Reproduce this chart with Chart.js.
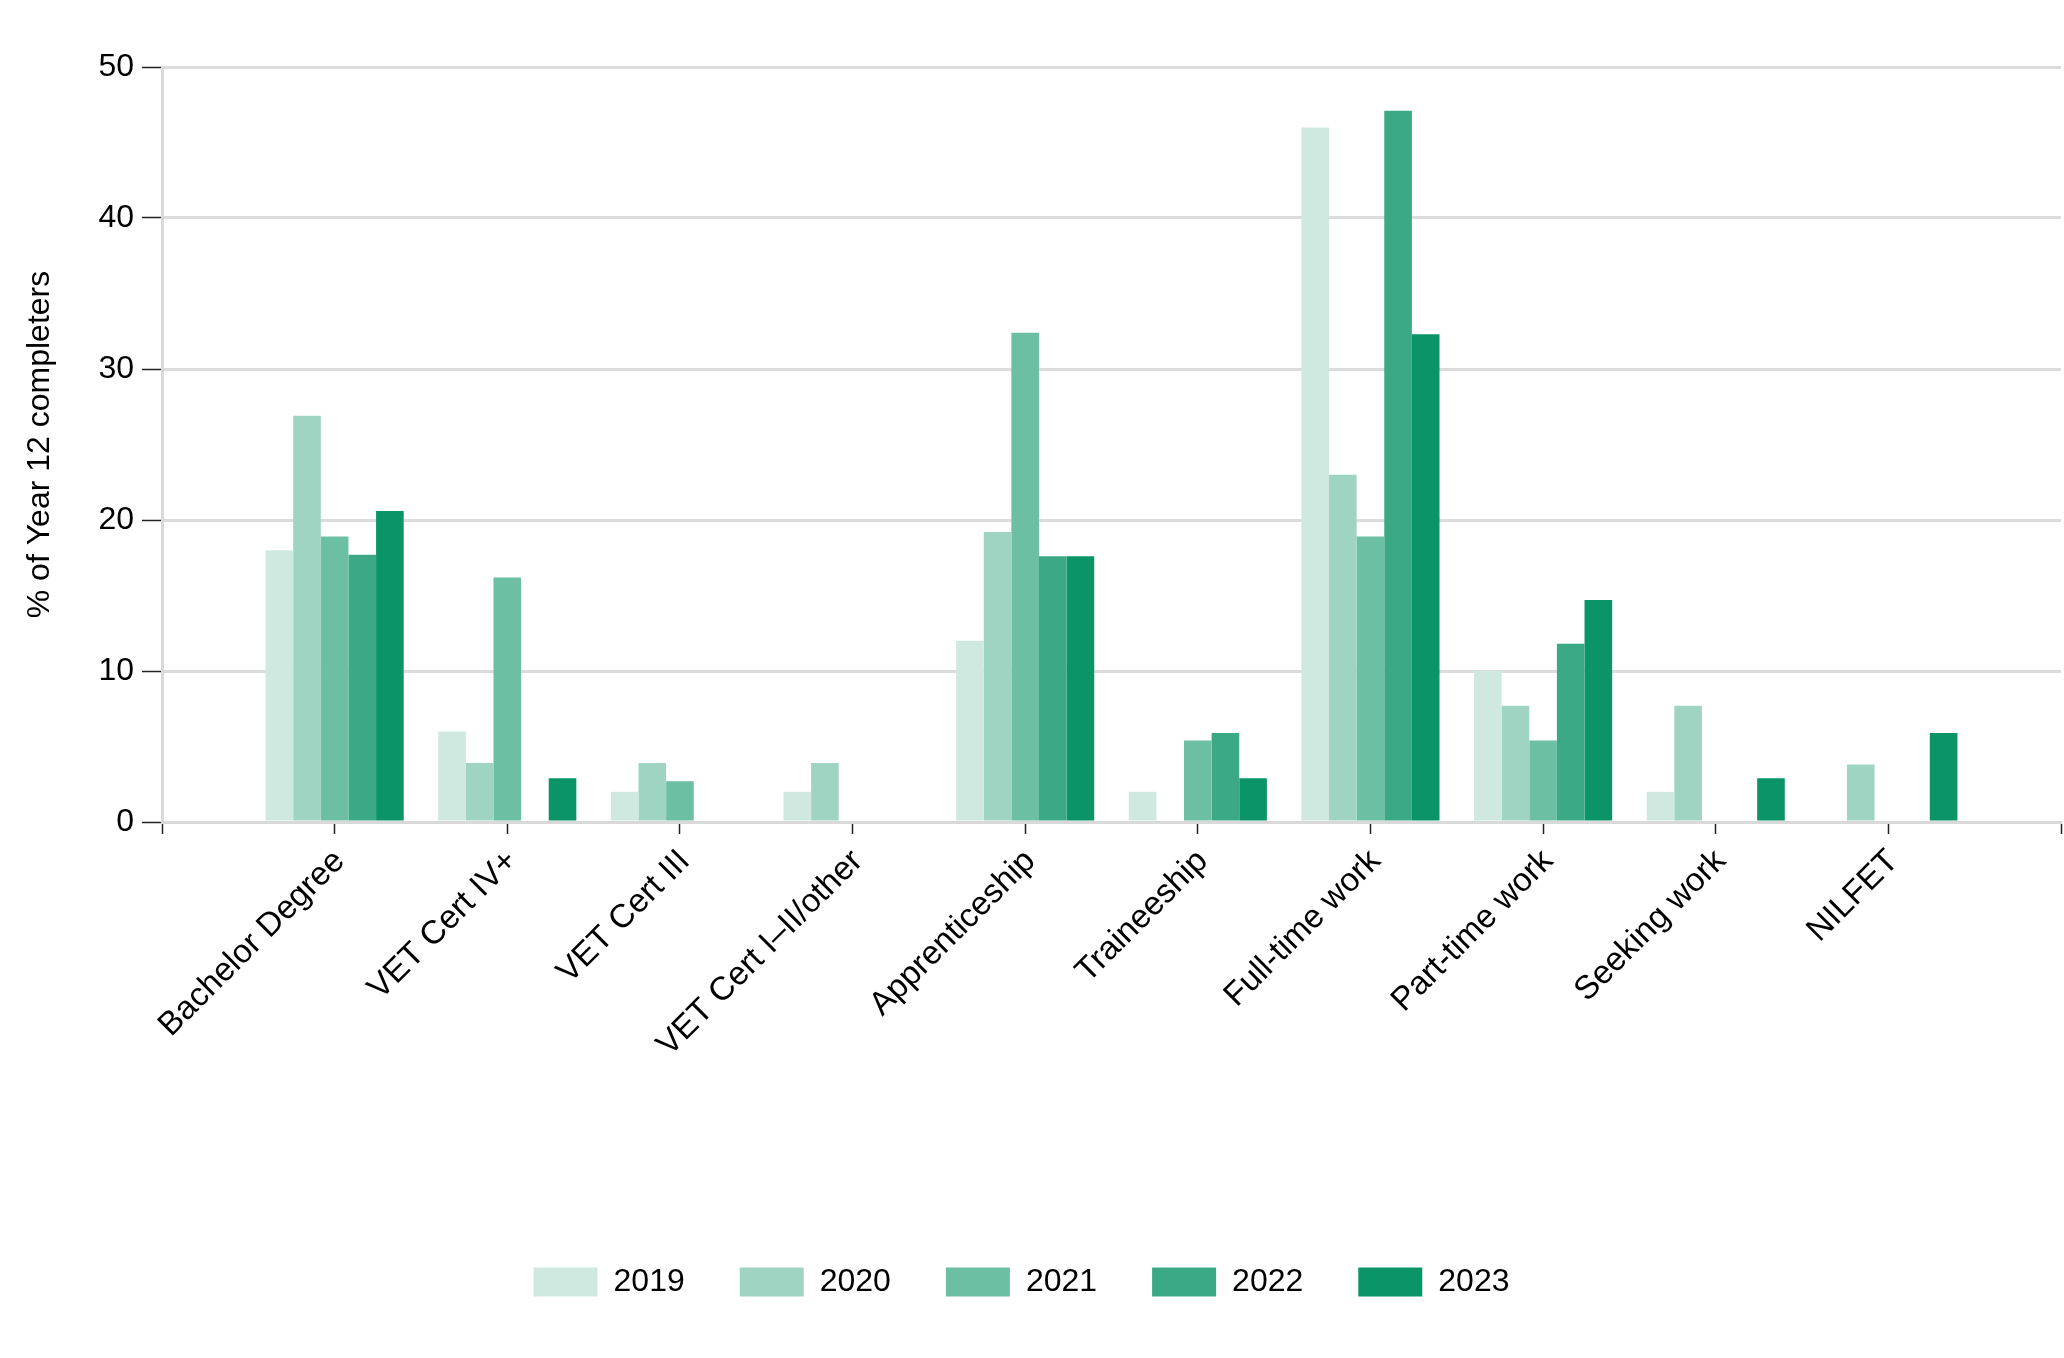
<!DOCTYPE html>
<html>
<head>
<meta charset="utf-8">
<script src="https://cdn.jsdelivr.net/npm/chart.js@4.4.1/dist/chart.umd.min.js"></script>
<style>
  html, body { margin: 0; padding: 0; background: #fff; }
  #wrap { width: 2064px; height: 1358px; }
</style>
</head>
<body>
<div id="wrap"><canvas id="c" width="2064" height="1358"></canvas></div>
<script>
const categories = ['Bachelor Degree', 'VET Cert IV+', 'VET Cert III', 'VET Cert I\u2013II/other', 'Apprenticeship', 'Traineeship', 'Full-time work', 'Part-time work', 'Seeking work', 'NILFET'];
const years = ['2019', '2020', '2021', '2022', '2023'];
const v2019 = [18.0, 6.0, 2.0, 2.0, 12.0, 2.0, 46.0, 10.0, 2.0, 0];
const v2020 = [26.9, 3.9, 3.9, 3.9, 19.2, 0, 23.0, 7.7, 7.7, 3.8];
const v2021 = [18.9, 16.2, 2.7, 0, 32.4, 5.4, 18.9, 5.4, 0, 0];
const v2022 = [17.7, 0, 0, 0, 17.6, 5.9, 47.1, 11.8, 0, 0];
const v2023 = [20.6, 2.9, 0, 0, 17.6, 2.9, 32.3, 14.7, 2.9, 5.9];
const yTicks = [0, 10, 20, 30, 40, 50];
const colors = ['#cfe8e0', '#a0d4c2', '#6dbfa4', '#3ca986', '#0b9467'];

const series = [v2019, v2020, v2021, v2022, v2023];
const labels = [''].concat(categories, ['']);
const FONT = "'Liberation Sans', Arial, sans-serif";

const datasets = series.map((vals, i) => ({
  label: years[i],
  data: [null].concat(vals, [null]),
  backgroundColor: colors[i],
  borderWidth: 0,
  categoryPercentage: 0.8,
  barPercentage: 1.0
}));

const legendShift = {
  id: 'legendShift',
  afterUpdate(chart) {
    if (chart.legend) { chart.legend.right -= 18; }
  }
};

new Chart(document.getElementById('c'), {
  type: 'bar',
  data: { labels, datasets },
  plugins: [legendShift],
  options: {
    responsive: false,
    animation: false,
    devicePixelRatio: 1,
    layout: { padding: { top: 67, right: 3, bottom: 50, left: 0 } },
    plugins: {
      legend: {
        position: 'bottom',
        labels: {
          boxWidth: 64,
          boxHeight: 29,
          padding: 55,
          color: '#000',
          font: { family: FONT, size: 32 }
        }
      },
      tooltip: { enabled: false }
    },
    scales: {
      x: {
        type: 'category',
        offset: false,
        grid: {
          offset: false,
          drawOnChartArea: false,
          drawTicks: true,
          tickLength: 12,
          tickColor: '#222',
          tickWidth: 1.5
        },
        border: { display: true, color: '#d9d9d9', width: 3 },
        ticks: {
          autoSkip: false,
          minRotation: 45,
          maxRotation: 45,
          color: '#000',
          padding: 8,
          labelOffset: 5,
          font: { family: FONT, size: 33 }
        },
        afterFit: (s) => { s.height = 389; s.paddingRight = 0; s.paddingLeft = 0; }
      },
      y: {
        min: 0,
        max: 50,
        afterBuildTicks: (s) => { s.ticks = yTicks.map(v => ({ value: v })); },
        grid: {
          color: '#dcdcdc',
          lineWidth: 3,
          tickLength: 20,
          tickColor: '#222',
          tickWidth: 1.5
        },
        border: { display: true, color: '#d9d9d9', width: 3 },
        ticks: {
          color: '#000',
          padding: 8,
          font: { family: FONT, size: 32 }
        },
        title: {
          display: true,
          text: '% of Year 12 completers',
          color: '#000',
          padding: { top: 21, bottom: 4 },
          font: { family: FONT, size: 32 }
        },
        afterFit: (s) => { s.width = 162; }
      }
    }
  }
});
</script>
</body>
</html>
